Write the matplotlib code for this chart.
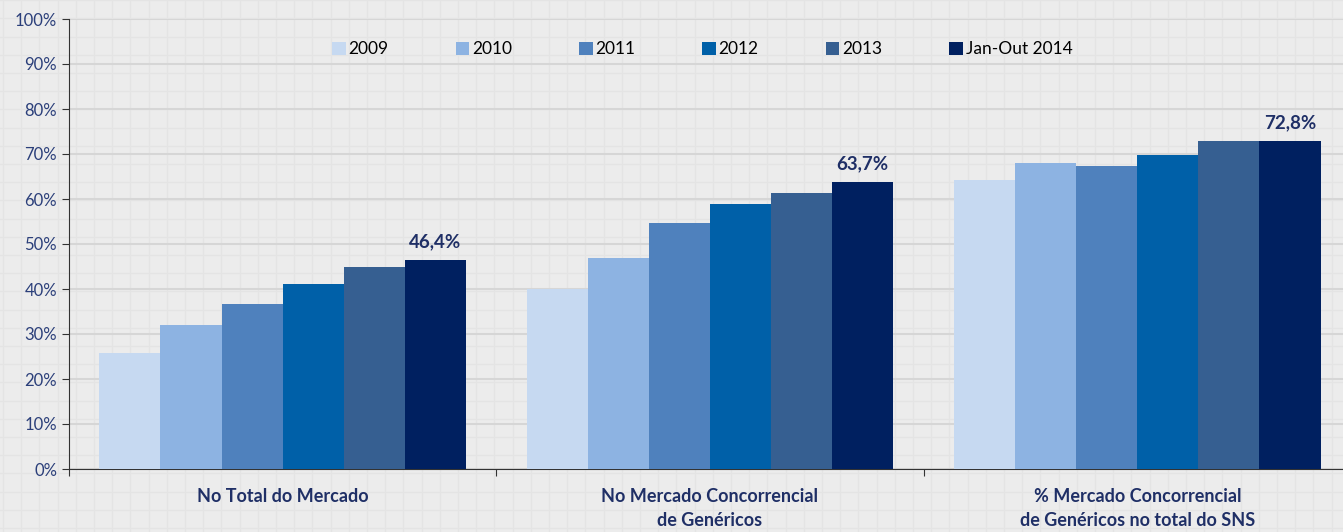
import matplotlib.pyplot as plt
import numpy as np
from matplotlib.ticker import FuncFormatter

# Data
categories = ["No Total do Mercado",
              "No Mercado Concorrencial\nde Genéricos",
              "% Mercado Concorrencial\nde Genéricos no total do SNS"]
series_names = ["2009", "2010", "2011", "2012", "2013", "Jan-Out 2014"]
values_2009 = [25.8, 40.0, 64.2]
values_2010 = [32.0, 46.9, 68.0]
values_2011 = [36.7, 54.7, 67.3]
values_2012 = [41.1, 58.9, 69.8]
values_2013 = [44.9, 61.3, 72.9]
values_2014 = [46.4, 63.7, 72.8]
label_2014 = ["46,4%", "63,7%", "72,8%"]

colors = ["#c6d9f1", "#8db3e2", "#4f81bd", "#0060a8", "#365f91", "#002060"]
navy = "#1f2f66"

plt.rcParams['font.family'] = ['Lato', 'DejaVu Sans']

W, H = 1343, 532
fig = plt.figure(figsize=(W / 100, H / 100), dpi=100)
fig.patch.set_facecolor("#ececec")

# graph paper background
bg = fig.add_axes([0, 0, 1, 1], zorder=-10)
bg.set_xlim(0, W)
bg.set_ylim(0, H)
for gx in np.arange(3, W, 18.2):
    bg.axvline(gx, color="#e4e4e4", lw=0.9)
for gy in np.arange(4, H, 18.2):
    bg.axhline(gy, color="#e4e4e4", lw=0.9)
bg.set_facecolor("#ededed")
bg.axis("off")

left, right, bottom, top = 69, 1343, 469, 19
ax = fig.add_axes([left / W, (H - bottom) / H, (right - left) / W, (bottom - top) / H])
ax.patch.set_alpha(0)

all_values = [values_2009, values_2010, values_2011, values_2012, values_2013, values_2014]
x = np.arange(len(categories))
bw = 0.143
for i, (vals, name) in enumerate(zip(all_values, series_names)):
    ax.bar(x + (i - 2.5) * bw, vals, bw, color=colors[i], label=name, zorder=3)

for xi, v, lab in zip(x, values_2014, label_2014):
    ax.text(xi + 2.5 * bw, v + 2.2, lab, ha="center", va="bottom",
            fontsize=13.5, fontweight="bold", color=navy)

ax.set_ylim(0, 100)
ax.set_xlim(-0.5, -0.5 + (right - left) / 427.3)
ax.set_yticks(np.arange(0, 101, 10))
ax.yaxis.set_major_formatter(FuncFormatter(lambda v, p: f"{int(v)}%"))
ax.grid(axis="y", color="#d6d6d6", lw=1.5, zorder=0)

ax.set_xticks([-0.5, 0.5, 1.5])
ax.set_xticklabels([])
ax.set_xticks(x, minor=True)
ax.set_xticklabels(categories, minor=True, fontsize=13, fontweight="bold", color=navy)
ax.tick_params(axis="x", which="minor", length=0, pad=14)
ax.tick_params(axis="x", which="major", length=5, color="#333333")
ax.tick_params(axis="y", length=5, labelsize=12, labelcolor="#2b3f7a", color="#333333")
for lbl in ax.get_xticklabels(minor=True):
    lbl.set_linespacing(1.45)

for s in ["top", "right"]:
    ax.spines[s].set_visible(False)
ax.spines["left"].set_color("#333333")
ax.spines["bottom"].set_color("#333333")

ax.legend(loc="upper center", bbox_to_anchor=(0.497, 0.985), ncol=6, frameon=False,
          fontsize=12.5, handlelength=0.8, handleheight=0.8, handletextpad=0.15,
          columnspacing=3.85)

fig.savefig("out.png", dpi=100, facecolor=fig.get_facecolor())
